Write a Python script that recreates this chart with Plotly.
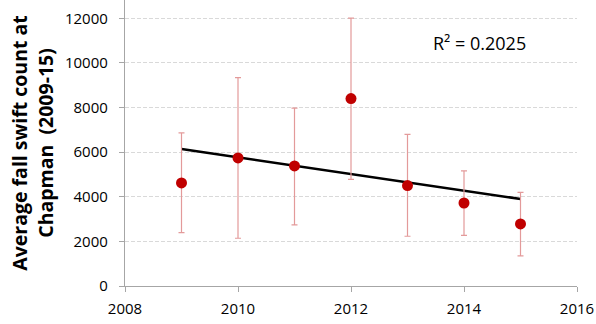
import numpy as np
import plotly.graph_objects as go

years = [2009, 2010, 2011, 2012, 2013, 2014, 2015]
avg_count = [4620, 5740, 5380, 8400, 4500, 3720, 2780]
upper = [6860, 9340, 7970, 12010, 6800, 5160, 4200]
lower = [2390, 2140, 2740, 4780, 2230, 2270, 1350]
r2_label = "R² = 0.2025"
y_title = "Average fall swift count at<br>Chapman  (2009-15)"

err_plus = [u - v for u, v in zip(upper, avg_count)]
err_minus = [v - l for v, l in zip(avg_count, lower)]

slope, intercept = np.polyfit(years, avg_count, 1)
trend_x = [years[0], years[-1]]
trend_y = [slope * x + intercept for x in trend_x]

fig = go.Figure()
fig.add_trace(go.Scatter(
    x=trend_x, y=trend_y, mode="lines",
    line=dict(color="black", width=2.5), showlegend=False, hoverinfo="skip"))
fig.add_trace(go.Scatter(
    x=years, y=avg_count, mode="markers",
    marker=dict(color="#C00000", size=11),
    error_y=dict(type="data", symmetric=False, array=err_plus, arrayminus=err_minus,
                 color="#E39A9A", thickness=1.2, width=3),
    showlegend=False))

fig.add_annotation(x=2014.28, y=10880, text=r2_label, showarrow=False,
                   font=dict(size=18, color="black", family="Open Sans"))

fig.update_layout(
    width=596, height=324,
    margin=dict(l=125, r=19, t=0, b=38, autoexpand=False),
    paper_bgcolor="white", plot_bgcolor="white",
    font=dict(family="Open Sans", size=15, color="black"),
    xaxis=dict(range=[2008, 2016], dtick=2, tick0=2008, showgrid=False,
               showline=True, linecolor="#A6A6A6", linewidth=1.3,
               ticks="outside", ticklen=5, tickcolor="#A6A6A6",
               ticklabelstandoff=4,
               zeroline=False, tickfont=dict(size=15), automargin=False),
    yaxis=dict(range=[0, 12820], dtick=2000, tick0=0, showgrid=True,
               tickformat="d",
               gridcolor="#D9D9D9", griddash="4px,2px", gridwidth=1,
               showline=True, linecolor="#A6A6A6", linewidth=1.3,
               ticks="outside", ticklen=5, tickcolor="#A6A6A6",
               ticklabelstandoff=8,
               zeroline=False, tickfont=dict(size=15), automargin=False,
               title=dict(text=y_title, font=dict(size=19.5, family="Open Sans", weight="bold"),
                          standoff=6)),
)

fig.write_html("out.html", config={"displayModeBar": False},
               post_script="document.body.style.margin='0px';document.body.style.padding='0px';")
